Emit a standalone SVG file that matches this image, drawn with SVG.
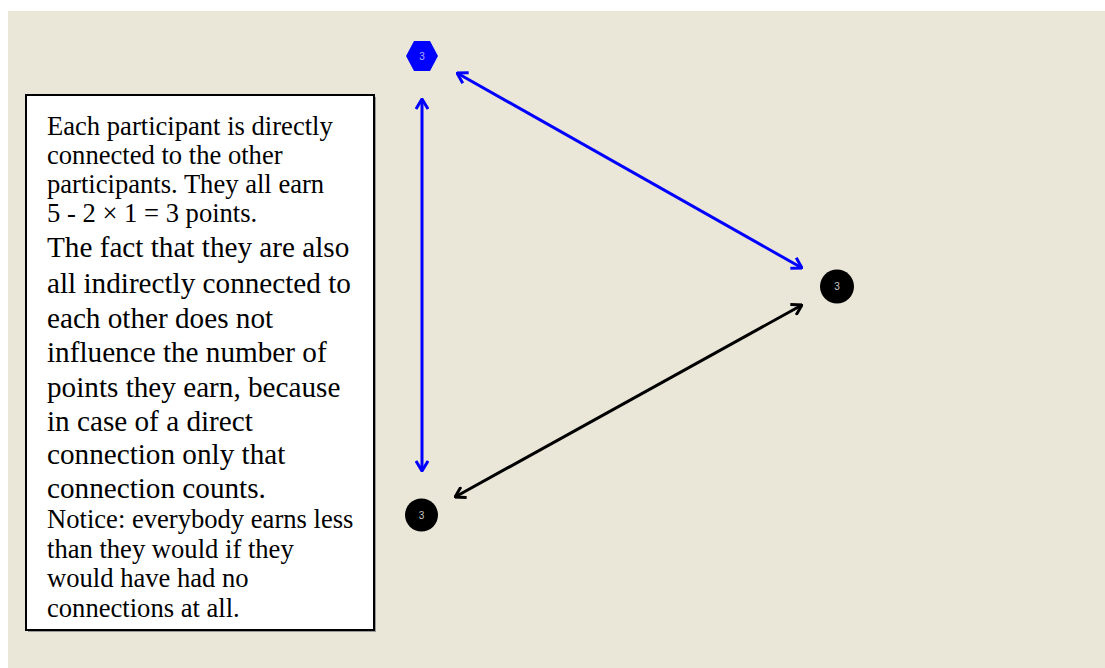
<svg xmlns="http://www.w3.org/2000/svg" width="1105" height="668" viewBox="0 0 1105 668">
<style>
.t20{font-family:"Liberation Serif","Times New Roman",serif;font-size:26.6px;fill:#000}
.t22{font-family:"Liberation Serif","Times New Roman",serif;font-size:29.2px;fill:#000}
.lbl{font-family:"Liberation Sans",Arial,sans-serif;font-size:10px;text-anchor:middle}
.blue{stroke:#0000ff;stroke-width:3;fill:none}
.black{stroke:#000;stroke-width:3;fill:none}
</style>
<defs>
<marker id="ab" viewBox="0 0 12 14" refX="11" refY="7" markerWidth="12" markerHeight="14" markerUnits="userSpaceOnUse" orient="auto-start-reverse">
<path d="M1,1 L11,7 L1,13" fill="none" stroke="#0000ff" stroke-width="3"/>
</marker>
<marker id="ak" viewBox="0 0 12 14" refX="11" refY="7" markerWidth="12" markerHeight="14" markerUnits="userSpaceOnUse" orient="auto-start-reverse">
<path d="M1,1 L11,7 L1,13" fill="none" stroke="#000" stroke-width="3"/>
</marker>
</defs>
<rect x="0" y="0" width="1105" height="668" fill="#ffffff"/>
<rect x="8" y="11" width="1097" height="657" fill="#ebe7d8"/>
<g id="textbox">
<rect x="28" y="97" width="348" height="535" fill="#999"/>
<rect x="26" y="95" width="348" height="535" fill="#ffffff" stroke="#000" stroke-width="2"/>
<text class="t20" x="47" y="135">Each participant is directly</text>
<text class="t20" x="47" y="164">connected to the other</text>
<text class="t20" x="47" y="193">participants. They all earn</text>
<text class="t20" x="47" y="222">5 - 2 × 1 = 3 points.</text>
<text class="t22" x="47" y="257">The fact that they are also</text>
<text class="t22" x="47" y="293">all indirectly connected to</text>
<text class="t22" x="47" y="328">each other does not</text>
<text class="t22" x="47" y="362">influence the number of</text>
<text class="t22" x="47" y="397">points they earn, because</text>
<text class="t22" x="47" y="431">in case of a direct</text>
<text class="t22" x="47" y="464">connection only that</text>
<text class="t22" x="47" y="498">connection counts.</text>
<text class="t20" x="47" y="528">Notice: everybody earns less</text>
<text class="t20" x="47" y="558">than they would if they</text>
<text class="t20" x="47" y="587">would have had no</text>
<text class="t20" x="47" y="617">connections at all.</text>
</g>
<g id="connectors">
<line class="blue" x1="422" y1="99" x2="422" y2="471" marker-start="url(#ab)" marker-end="url(#ab)"/>
<line class="blue" x1="457" y1="73" x2="802" y2="268" marker-start="url(#ab)" marker-end="url(#ab)"/>
<line class="black" x1="455" y1="497" x2="802" y2="305" marker-start="url(#ak)" marker-end="url(#ak)"/>
</g>
<g id="node-top">
<polygon points="406,56 414,41 430,41 438,56 430,71 414,71" fill="#0000ff"/>
<text class="lbl" x="422" y="59.5" fill="#b0b0ff">3</text>
</g>
<g id="node-right">
<circle cx="837" cy="286.5" r="17" fill="#000"/>
<text class="lbl" x="837" y="290" fill="#c8c8c8">3</text>
</g>
<g id="node-bottom">
<circle cx="421.5" cy="515" r="16.5" fill="#000"/>
<text class="lbl" x="421.5" y="518.5" fill="#c8c8c8">3</text>
</g>
</svg>
